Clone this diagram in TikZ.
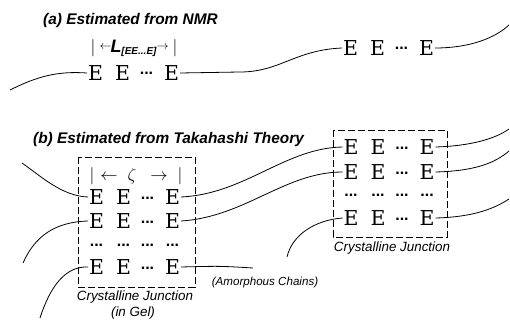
\documentclass[tikz,border=0pt]{standalone}
\usepackage{fontspec}
\newfontfamily\hv{Liberation Sans}
\newfontfamily\unitfont{DejaVu Serif}

% one row of monomer units: four equal cells
\newcommand\efont{\unitfont\fontsize{20.5}{24}\selectfont}
\newcommand\Erow[4]{\makebox[15pt]{#1}\hspace{12pt}\makebox[15pt]{#2}\hspace{9pt}\makebox[15pt]{#3}\hspace{10pt}\makebox[15pt]{#4}}
\newcommand\Ed{\raisebox{5.5pt}{\hv\bfseries\fontsize{16}{16}\selectfont ...}}
\newcommand\lbar{{\fontsize{18}{18}\selectfont$|$}}

\tikzset{
  chain/.style={line width=0.8pt},
  junction/.style={draw, dash pattern=on 7pt off 3pt, line width=0.7pt},
  erow/.style={inner sep=0pt, outer sep=1pt, text height=15pt, text depth=0pt, font=\efont},
  title/.style={anchor=west, inner sep=0pt, font=\hv\bfseries\itshape\fontsize{15.4}{18}\selectfont},
  caption/.style={inner sep=0pt, font=\hv\itshape\fontsize{13.4}{16}\selectfont},
  smallcap/.style={inner sep=0pt, font=\hv\itshape\fontsize{11.6}{14}\selectfont},
}

\begin{document}
\begin{tikzpicture}[x=1pt, y=-1pt]
\useasboundingbox (0,0) rectangle (510,320);

% ---------------- (a) ----------------
\node[title] (ta) at (43,21) {(a) Estimated from NMR};

\node (lenA) at (134,48) {\lbar\hspace{4pt}\raisebox{3pt}{\fontsize{12}{12}\selectfont$\leftarrow$}\hspace{-1pt}{\hv\bfseries\itshape\fontsize{18}{18}\selectfont L}\raisebox{-2.5pt}{\hv\bfseries\itshape\fontsize{10}{10}\selectfont [EE...E]}\raisebox{3pt}{\fontsize{12}{12}\selectfont$\rightarrow$}\hspace{4pt}\lbar};

\node[erow] (A1) at (133.5,73) {\Erow{E}{E}{\Ed}{E}};
\node[erow] (A2) at (388.5,48) {\Erow{E}{E}{\Ed}{E}};

\coordinate (a0) at (10,90);
\coordinate (a1) at (240,72);
\coordinate (a9) at (509,25);

\draw[chain] (a0) .. controls (38,76) and (58,71) .. (A1.west);
\draw[chain] (A1.east) -- (a1) .. controls (280,72) and (295,50) .. (A2.west);
\draw[chain] (A2.east) .. controls (470,48) and (495,38) .. (a9);

% ---------------- (b) ----------------
\node[title] (tb) at (33,140) {(b) Estimated from Takahashi Theory};

% junction in the gel
\draw[junction] (78,157) rectangle (195,287);
\node (lenB) at (136,176) {\fontsize{16}{16}\selectfont$|$\hspace{6pt}$\leftarrow$\hspace{10pt}$\zeta$\hspace{14pt}$\rightarrow$\hspace{10pt}$|$};
\node[erow] (L1) at (134.5,197) {\Erow{E}{E}{\Ed}{E}};
\node[erow] (L2) at (134.5,221) {\Erow{E}{E}{\Ed}{E}};
\node[erow] (Ld) at (134.5,244) {\Erow{\Ed}{\Ed}{\Ed}{\Ed}};
\node[erow] (L4) at (134.5,267) {\Erow{E}{E}{\Ed}{E}};
\node[caption] (cl) at (135,297) {Crystalline Junction};
\node[caption] (cg) at (133,313) {(in Gel)};

% second junction
\draw[junction] (333,130) rectangle (447,237);
\node[erow] (R1) at (389,147) {\Erow{E}{E}{\Ed}{E}};
\node[erow] (R2) at (389,172) {\Erow{E}{E}{\Ed}{E}};
\node[erow] (Rd) at (389,194) {\Erow{\Ed}{\Ed}{\Ed}{\Ed}};
\node[erow] (R4) at (389,218) {\Erow{E}{E}{\Ed}{E}};
\node[caption] (cr) at (392,248) {Crystalline Junction};

\node[smallcap] (am) at (265,282) {(Amorphous Chains)};

% loose chain ends
\coordinate (b1) at (22,163);
\coordinate (b2) at (23,263);
\coordinate (b4) at (40,318);
\coordinate (b5) at (253,268);
\coordinate (b6) at (287,257);
\coordinate (r1) at (509,129);
\coordinate (r2) at (509,151);
\coordinate (r4) at (509,199);

% amorphous chains
\draw[chain] (b1) .. controls (42,177) and (62,196) .. (L1.west);
\draw[chain] (b2) .. controls (35,236) and (55,222) .. (L2.west);
\draw[chain] (b4) .. controls (50,287) and (65,266) .. (L4.west);
\draw[chain] (L1.east) .. controls (245,194) and (285,148) .. (R1.west);
\draw[chain] (L2.east) .. controls (245,217) and (285,172) .. (R2.west);
\draw[chain] (L4.east) .. controls (220,266) .. (b5);
\draw[chain] (R4.west) .. controls (315,220) and (292,235) .. (b6);
\draw[chain] (R1.east) .. controls (470,146) and (495,139) .. (r1);
\draw[chain] (R2.east) .. controls (475,171) and (495,163) .. (r2);
\draw[chain] (R4.east) .. controls (475,217) and (495,208) .. (r4);
\end{tikzpicture}
\end{document}
